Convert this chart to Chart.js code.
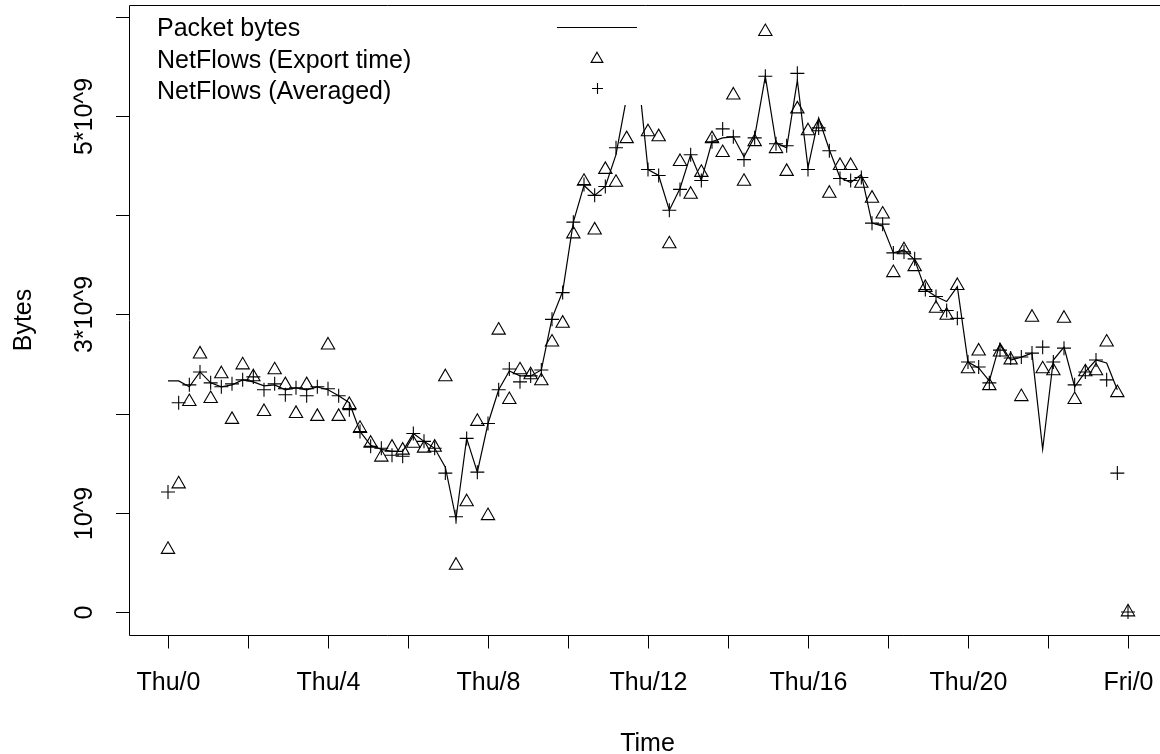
<!DOCTYPE html>
<html>
<head>
<meta charset="utf-8">
<script src="https://cdn.jsdelivr.net/npm/chart.js@4/dist/chart.umd.min.js"></script>
<style>
html,body{margin:0;padding:0;background:#fff;}
#wrap{width:1160px;height:754px;position:relative;}
canvas{display:block;}
</style>
</head>
<body>
<div id="wrap"><canvas id="c" width="1160" height="754"></canvas></div>
<script>
// time of each sample, minutes since Thu 00:00
const timesMin = [0,16,32,48,64,80,96,112,128,144,160,176,192,208,224,240,256,272,288,304,320,336,352,368,384,400,416,432,448,464,480,496,512,528,544,560,576,592,608,624,640,656,672,688,704,720,736,752,768,784,800,816,832,848,864,880,896,912,928,944,960,976,992,1008,1024,1040,1056,1072,1088,1104,1120,1136,1152,1168,1184,1200,1216,1232,1248,1264,1280,1296,1312,1328,1344,1360,1376,1392,1408,1424,1440];

// values in units of 10^9 bytes
const packetBytes = [2.33,2.33,2.27,2.42,2.31,2.27,2.29,2.34,2.32,2.28,
 2.29,2.24,2.26,2.24,2.27,2.24,2.18,2.11,1.82,1.68,
 1.64,1.62,1.62,1.80,1.72,1.65,1.46,0.94,1.75,1.41,
 1.90,2.24,2.43,2.38,2.38,2.44,2.96,3.23,3.93,4.30,
 4.20,4.29,4.61,5.19,5.51,4.46,4.40,4.05,4.27,4.61,
 4.35,4.74,4.78,4.79,4.59,4.79,5.40,4.73,4.68,5.36,
 4.48,4.98,4.66,4.38,4.33,4.41,3.92,3.89,3.62,3.65,
 3.55,3.25,3.18,3.13,3.28,2.52,2.46,2.33,2.71,2.54,
 2.57,2.61,1.64,2.54,2.67,2.27,2.42,2.54,2.51,2.24,
 null];

const exportTime = [0.63,1.29,2.12,2.60,2.15,2.40,1.94,2.49,2.37,2.02,
 2.44,2.29,2.00,2.29,1.97,2.69,1.97,2.09,1.85,1.70,
 1.56,1.66,1.63,1.70,1.65,1.66,2.37,0.47,1.11,1.92,
 0.97,2.84,2.14,2.44,2.39,2.33,2.72,2.91,3.81,4.34,
 3.85,4.46,4.33,4.77,5.45,4.84,4.79,3.71,4.54,4.21,
 4.43,4.77,4.63,5.21,4.34,4.74,5.85,4.67,4.44,5.07,
 4.85,4.89,4.22,4.50,4.50,4.32,4.17,4.01,3.42,3.65,
 3.48,3.27,3.06,2.99,3.29,2.45,2.63,2.28,2.62,2.54,
 2.17,2.97,2.45,2.43,2.96,2.14,2.42,2.43,2.72,2.21,
 0.00];

const averaged = [1.21,2.11,2.29,2.42,2.31,2.27,2.30,2.34,2.37,2.24,
 2.30,2.19,2.26,2.18,2.27,2.25,2.18,2.04,1.82,1.67,
 1.65,1.58,1.57,1.80,1.72,1.65,1.40,0.96,1.75,1.41,
 1.90,2.24,2.45,2.32,2.38,2.44,2.95,3.22,3.93,4.31,
 4.20,4.29,4.68,5.25,5.50,4.46,4.40,4.05,4.26,4.61,
 4.35,4.74,4.87,4.79,4.56,4.78,5.40,4.72,4.70,5.43,
 4.46,4.88,4.65,4.37,4.35,4.38,3.92,3.91,3.62,3.63,
 3.56,3.25,3.18,3.04,2.96,2.52,2.47,2.31,2.64,2.56,
 2.57,2.61,2.67,2.52,2.66,2.29,2.42,2.54,2.34,1.40,
 0.00];

const xTickValues = [0,120,240,360,480,600,720,840,960,1080,1200,1320,1440];
const xTickLabels = ['Thu/0','','Thu/4','','Thu/8','','Thu/12','','Thu/16','','Thu/20','','Fri/0'];
const yTickValues = [0,1,2,3,4,5,6];
const yTickLabels = ['0','10^9','','3*10^9','','5*10^9',''];
const seriesNames = ['Packet bytes','NetFlows (Export time)','NetFlows (Averaged)'];
const xTitle = 'Time';
const yTitle = 'Bytes';

const FONT = "25px 'Liberation Sans', Arial, Helvetica, sans-serif";

function pts(vals){ return timesMin.map((t,i)=>({x:t, y:vals[i]})); }

function drawTri(ctx, x, y, r){
  ctx.beginPath();
  ctx.moveTo(x, y - r);
  ctx.lineTo(x + r*Math.sin(2*Math.PI/3), y + r/2);
  ctx.lineTo(x - r*Math.sin(2*Math.PI/3), y + r/2);
  ctx.closePath();
  ctx.stroke();
}
function drawPlus(ctx, x, y, r){
  ctx.beginPath();
  ctx.moveTo(x - r, y); ctx.lineTo(x + r, y);
  ctx.moveTo(x, y - r); ctx.lineTo(x, y + r);
  ctx.stroke();
}

const rPlot = {
  id: 'rPlot',
  afterDatasetsDraw(chart){
    const ctx = chart.ctx, a = chart.chartArea, xs = chart.scales.x, ys = chart.scales.y;
    ctx.save();
    // legend background (opaque, no border)
    ctx.fillStyle = '#fff';
    ctx.fillRect(a.left, a.top, 645 - a.left, 105 - a.top);

    ctx.strokeStyle = '#000';
    ctx.fillStyle = '#000';
    ctx.lineWidth = 1;
    // frame (right side lies beyond the picture)
    ctx.beginPath();
    ctx.moveTo(a.right + 20, a.top + 0.5);
    ctx.lineTo(a.left + 0.5, a.top + 0.5);
    ctx.lineTo(a.left + 0.5, a.bottom + 0.5);
    ctx.lineTo(a.right + 20, a.bottom + 0.5);
    ctx.stroke();

    ctx.font = FONT;
    // x axis ticks and labels
    ctx.textAlign = 'center';
    ctx.textBaseline = 'alphabetic';
    xTickValues.forEach((v,i)=>{
      const px = Math.round(xs.getPixelForValue(v)) + 0.5;
      ctx.beginPath();
      ctx.moveTo(px, a.bottom + 0.5);
      ctx.lineTo(px, a.bottom + 13.5);
      ctx.stroke();
      if (xTickLabels[i]) ctx.fillText(xTickLabels[i], px, 690);
    });
    // y axis ticks and labels
    yTickValues.forEach((v,i)=>{
      const py = Math.round(ys.getPixelForValue(v)) + 0.5;
      ctx.beginPath();
      ctx.moveTo(a.left + 0.5, py);
      ctx.lineTo(a.left - 13, py);
      ctx.stroke();
      if (yTickLabels[i]){
        ctx.save();
        ctx.translate(92, py);
        ctx.rotate(-Math.PI/2);
        ctx.fillText(yTickLabels[i], 0, 0);
        ctx.restore();
      }
    });
    // axis titles
    ctx.fillText(xTitle, (a.left + 1166) / 2, 751);
    ctx.save();
    ctx.translate(31, (a.top + a.bottom) / 2);
    ctx.rotate(-Math.PI/2);
    ctx.fillText(yTitle, 0, 0);
    ctx.restore();

    // legend
    ctx.textAlign = 'left';
    const rows = [27, 59, 90];
    seriesNames.forEach((n,i)=> ctx.fillText(n, 157, rows[i] + 9));
    ctx.lineWidth = 1.1;
    ctx.beginPath();
    ctx.moveTo(557, rows[0] + 0.5); ctx.lineTo(637, rows[0] + 0.5);
    ctx.stroke();
    drawTri(ctx, 597, rows[1], 6.8);
    drawPlus(ctx, 597.5, rows[2] - 1.5, 5.5);
    ctx.restore();
  }
};

new Chart(document.getElementById('c'), {
  type: 'scatter',
  data: {
    datasets: [
      { label: seriesNames[0], data: pts(packetBytes), showLine: true, spanGaps: false,
        borderColor: '#000', borderWidth: 1.2, pointRadius: 0, tension: 0, fill: false },
      { label: seriesNames[1], data: pts(exportTime), showLine: false,
        pointStyle: 'triangle', pointRadius: 7.7, pointBorderWidth: 1.1,
        borderColor: '#000', backgroundColor: 'rgba(0,0,0,0)' },
      { label: seriesNames[2], data: pts(averaged), showLine: false,
        pointStyle: 'cross', pointRadius: 7, pointBorderWidth: 1.1,
        borderColor: '#000', backgroundColor: 'rgba(0,0,0,0)' }
    ]
  },
  options: {
    responsive: false,
    animation: false,
    devicePixelRatio: 1,
    layout: { autoPadding: false, padding: { left: 129, top: 5, right: 0, bottom: 119 } },
    scales: {
      x: { type: 'linear', display: false, min: -58.5, max: 1488 },
      y: { type: 'linear', display: false, min: -0.2319, max: 6.119 }
    },
    plugins: { legend: { display: false }, tooltip: { enabled: false } }
  },
  plugins: [rPlot]
});
</script>
</body>
</html>
